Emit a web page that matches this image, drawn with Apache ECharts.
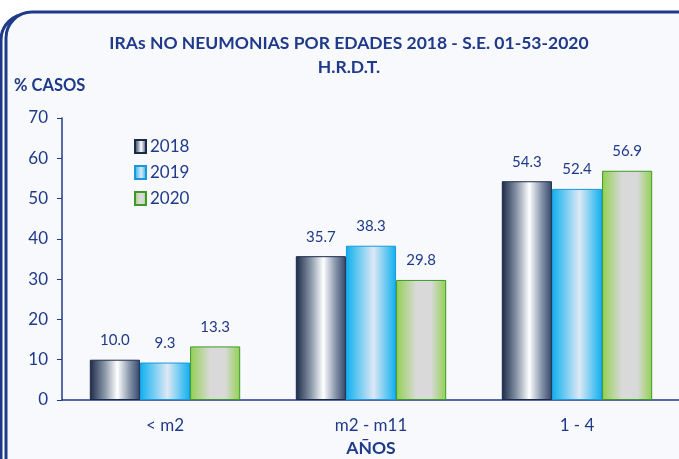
<!DOCTYPE html>
<html>
<head>
<meta charset="utf-8">
<script src="https://cdn.jsdelivr.net/npm/echarts@6/dist/echarts.min.js"></script>
<style>
  html, body { margin: 0; padding: 0; background: #ffffff; }
  #chart { width: 679px; height: 459px; }
</style>
</head>
<body>
<div id="chart"></div>
<script>
// datos
var categorias = ['< m2', 'm2 - m11', '1 - 4'];
var anios = ['2018', '2019', '2020'];
var valores2018 = [10.0, 35.7, 54.3];
var valores2019 = [9.3, 38.3, 52.4];
var valores2020 = [13.3, 29.8, 56.9];
var ticksY = [0, 10, 20, 30, 40, 50, 60, 70];

var azul = '#1f3a8a';
var fuente = 'Lato, "Open Sans", sans-serif';

function degradado(stops) {
  return new echarts.graphic.LinearGradient(0, 0, 1, 0, stops);
}

var estilos = [
  {
    color: degradado([
      { offset: 0, color: '#1b2a48' },
      { offset: 0.3, color: '#8a96a8' },
      { offset: 0.55, color: '#ffffff' },
      { offset: 0.8, color: '#8392a8' },
      { offset: 1, color: '#34456a' }
    ]),
    borderColor: '#1b2a48'
  },
  {
    color: degradado([
      { offset: 0, color: '#0db0ef' },
      { offset: 0.55, color: '#dde8f5' },
      { offset: 1, color: '#0db0ef' }
    ]),
    borderColor: '#1a98d8'
  },
  {
    color: degradado([
      { offset: 0, color: '#92d050' },
      { offset: 0.4, color: '#d9d9d9' },
      { offset: 0.7, color: '#d9d9d9' },
      { offset: 1, color: '#92d050' }
    ]),
    borderColor: '#3a9a2a'
  }
];

var datos = [valores2018, valores2019, valores2020];

var series = anios.map(function (a, i) {
  return {
    name: a,
    type: 'bar',
    data: datos[i],
    barGap: '0%',
    barCategoryGap: '27%',
    itemStyle: {
      color: estilos[i].color,
      borderColor: estilos[i].borderColor,
      borderWidth: 1
    },
    label: {
      show: true,
      position: 'top',
      distance: 12,
      color: azul,
      fontSize: 15,
      fontFamily: fuente,
      formatter: function (p) { return p.value.toFixed(1); }
    }
  };
});

var chart = echarts.init(document.getElementById('chart'));
chart.setOption({
  backgroundColor: '#ffffff',
  animation: false,
  graphic: [
    {
      type: 'rect', z: -10,
      shape: { x: 1, y: 14, width: 720, height: 480, r: 26 },
      style: { fill: 'none', stroke: '#1f3a8a', lineWidth: 3 }
    },
    {
      type: 'rect', z: -9,
      shape: { x: 6, y: 12, width: 700, height: 480, r: 26 },
      style: { fill: '#f8f9fc', stroke: '#1f3a8a', lineWidth: 3 }
    }
  ],
  title: {
    text: 'IRAs NO NEUMONIAS POR EDADES 2018 - S.E. 01-53-2020\nH.R.D.T.',
    left: 344,
    textAlign: 'center',
    top: 26,
    textStyle: {
      color: azul, fontSize: 17.5, fontWeight: 'bold', fontFamily: fuente, lineHeight: 24, align: 'center'
    }
  },
  legend: {
    data: anios,
    orient: 'vertical',
    left: 129,
    top: 133,
    itemGap: 9,
    itemWidth: 11,
    itemHeight: 13,
    icon: 'rect',
    textStyle: { color: azul, fontSize: 17, fontFamily: fuente, padding: [0, 0, 0, -1] }
  },
  grid: { left: 62, top: 118, width: 618, height: 282, outerBoundsMode: 'none', containLabel: false },
  xAxis: {
    type: 'category',
    data: categorias,
    name: 'AÑOS',
    nameLocation: 'middle',
    nameGap: 36,
    nameTextStyle: { color: azul, fontSize: 17.5, fontWeight: 'bold', fontFamily: fuente },
    axisLine: { lineStyle: { color: azul, width: 1.5 } },
    axisTick: { show: false },
    axisLabel: { color: azul, fontSize: 17, fontFamily: fuente, margin: 17 }
  },
  yAxis: {
    type: 'value',
    min: ticksY[0],
    max: ticksY[ticksY.length - 1],
    interval: 10,
    name: '% CASOS',
    nameLocation: 'end',
    nameGap: 24,
    nameTextStyle: { color: azul, fontSize: 16.5, fontWeight: 'bold', fontFamily: fuente, align: 'left', padding: [0, 0, 0, -48] },
    axisLine: { show: true, lineStyle: { color: azul, width: 1.5 } },
    axisTick: { show: true, length: 5, lineStyle: { color: azul } },
    splitLine: { show: false },
    axisLabel: { color: azul, fontSize: 17, fontFamily: fuente, margin: 14 }
  },
  series: series
});
</script>
</body>
</html>
